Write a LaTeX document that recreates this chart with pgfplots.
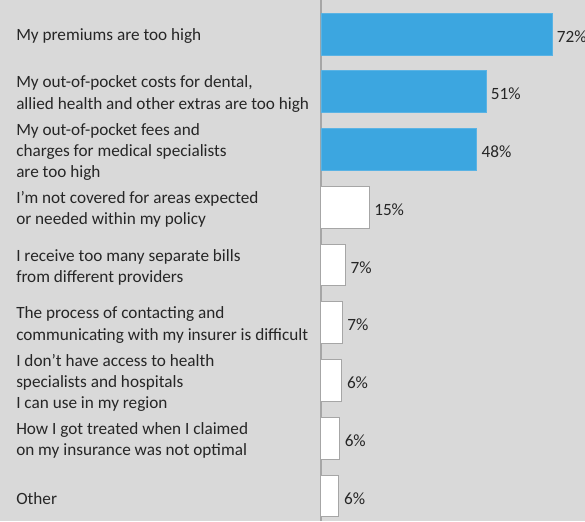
\documentclass[border=0pt]{standalone}
\usepackage{fontspec}
\setmainfont{Carlito}
\usepackage{pgfplots}
\pgfplotsset{compat=1.18}
\definecolor{bgc}{HTML}{D9D9D9}
\definecolor{barblue}{HTML}{3CA6E0}
\definecolor{bluedge}{HTML}{5AB3E4}
\definecolor{axgray}{HTML}{A6A6A6}

% y = row (0 = bottom), x = bar length, lab = printed percentage
\pgfplotstableread{
y x lab
8 72.0 72
7 51.4 51
6 48.5 48
}\bluedata
\pgfplotstableread{
y x lab
5 15.0 15
4 7.6 7
3 6.6 7
2 6.5 6
1 5.8 6
0 5.6 6
}\whitedata

\begin{document}
\begin{tikzpicture}
\path[use as bounding box, fill=bgc] (-240.75pt,0) rectangle (198pt,390.75pt);
\begin{axis}[
    at={(0,0)}, anchor=south west,
    scale only axis,
    width=198pt, height=390.75pt,
    xbar, bar shift=0pt, bar width=0.727,
    xmin=0, xmax=82.3,
    ymin=-0.433, ymax=8.589,
    axis x line=none,
    axis y line=left,
    axis line style={-, draw=axgray, line width=1.5pt},
    major tick length=0pt,
    ytick={0,...,8},
    yticklabels={
        {Other},
        {How I got treated when I claimed\\on my insurance was not optimal},
        {I don’t have access to health\\specialists and hospitals\\I can use in my region},
        {The process of contacting and\\communicating with my insurer is difficult},
        {I receive too many separate bills\\from different providers},
        {I’m not covered for areas expected\\or needed within my policy},
        {My out-of-pocket fees and\\charges for medical specialists\\are too high},
        {My out-of-pocket costs for dental,\\allied health and other extras are too high},
        {My premiums are too high}},
    yticklabel style={anchor=west, align=left, inner sep=0pt, xshift=-228.75pt,
        yshift=-1.8pt, font=\fontsize{12.9}{16}\selectfont, text=black!85},
    clip=false,
    nodes near coords={\pgfmathprintnumber[fixed,precision=0]{\pgfplotspointmeta}\%},
    nodes near coords style={anchor=west, inner sep=0pt, xshift=3.5pt, yshift=-1.8pt,
        font=\fontsize{12.9}{16}\selectfont, text=black!85,
        /pgf/number format/assume math mode=true},
    point meta=explicit,
]
\addplot[fill=barblue, draw=bluedge, line width=0.5pt] table[x=x, y=y, meta=lab] {\bluedata};
\addplot[fill=white, draw=axgray, line width=0.75pt] table[x=x, y=y, meta=lab] {\whitedata};
\end{axis}
\end{tikzpicture}
\end{document}
